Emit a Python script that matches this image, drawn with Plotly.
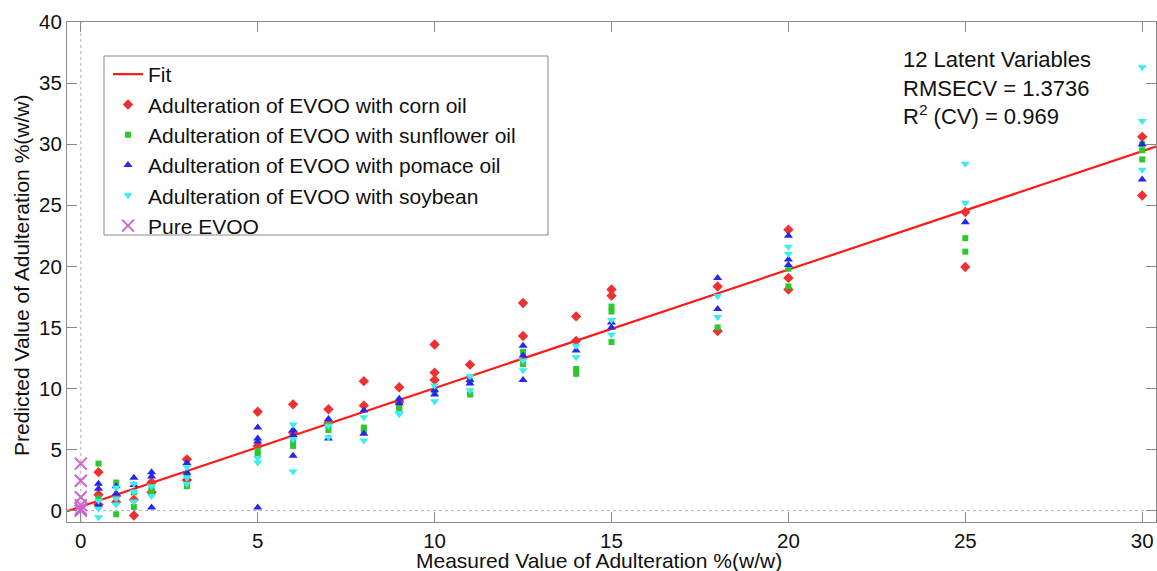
import plotly.graph_objects as go

# Measured adulteration levels (% w/w) and PLS-predicted values per oil type
corn_x = [0.5, 0.5, 0.5, 1, 1, 1.5, 1.5, 2, 2, 3, 3, 5, 5, 6, 6, 7, 7, 8, 8, 9, 9,
          10, 10, 10, 11, 12.5, 12.5, 14, 14, 15, 15, 18, 18, 20, 20, 20, 25, 25, 30, 30]
corn_y = [3.15, 1.3, 0.5, 0.7, 1.2, -0.4, 0.9, 2.3, 1.5, 4.2, 2.5, 8.1, 5.3, 8.7, 6.4, 8.3, 7.2, 10.6, 8.6, 10.1, 8.9,
          13.6, 11.3, 10.7, 11.95, 17.0, 14.3, 15.9, 13.9, 18.1, 17.6, 18.35, 14.7, 23.0, 19.05, 18.1, 24.45, 19.95, 30.6, 25.8]

sunflower_x = [0.5, 0.5, 1, 1, 1.5, 1.5, 2, 2, 3, 3, 5, 5, 6, 6, 7, 7, 8, 8, 9, 9,
               10, 11, 11, 12.5, 12.5, 14, 14, 15, 15, 15, 18, 20, 20, 25, 25, 30, 30, 30]
sunflower_y = [3.85, 1.0, 2.3, -0.3, 0.3, 1.5, 1.9, 1.6, 2.0, 3.0, 4.9, 4.6, 5.3, 5.6, 7.0, 6.6, 6.8, 6.6, 8.5, 8.3,
               9.8, 9.5, 10.6, 13.0, 12.0, 11.6, 11.2, 16.7, 16.3, 13.8, 15.0, 19.8, 18.35, 22.3, 21.2, 30.0, 29.5, 28.75]

pomace_x = [0.5, 0.5, 0.5, 1, 1, 1.5, 1.5, 2, 2, 2, 3, 3, 5, 5, 5, 5, 6, 6, 6, 7, 7, 8, 8, 9, 9,
            10, 10, 11, 11, 12.5, 12.5, 12.5, 14, 15, 15, 18, 18, 20, 20, 20, 25, 30, 30]
pomace_y = [2.2, 1.8, 0.5, 1.4, 2.0, 2.7, 2.1, 3.15, 2.8, 0.25, 3.9, 3.1, 6.8, 5.9, 5.65, 0.25, 6.6, 6.2, 4.5, 7.5, 5.9, 8.2, 6.3, 9.15, 8.8,
            9.85, 9.5, 10.7, 10.4, 13.5, 12.7, 10.7, 13.1, 15.4, 15.0, 19.05, 16.5, 22.5, 20.55, 20.1, 23.6, 30.0, 27.1]

soybean_x = [0.5, 0.5, 0.5, 1, 1, 1, 1.5, 1.5, 1.5, 2, 2, 3, 3, 3, 5, 5, 6, 6, 6, 7, 7, 8, 8, 9, 9,
             10, 10, 11, 11, 12.5, 12.5, 14, 14, 15, 15, 18, 18, 20, 20, 25, 25, 30, 30, 30]
soybean_y = [0.8, 0.15, -0.55, 1.9, 1.0, 0.5, 2.2, 1.55, 0.75, 1.2, 2.0, 3.55, 2.7, 2.2, 4.3, 3.95, 7.05, 5.85, 3.2, 6.95, 6.0, 7.65, 5.75, 8.0, 7.9,
             10.25, 8.95, 11.0, 9.85, 12.3, 11.5, 13.5, 12.55, 14.4, 15.6, 17.55, 15.85, 21.6, 21.0, 28.4, 25.2, 36.3, 31.9, 27.9]

pure_x = [0, 0, 0, 0, 0, 0]
pure_y = [3.85, 2.45, 1.1, 0.45, 0.15, 0.0]

# Regression line of predicted vs measured
fit_slope = 0.97
fit_intercept = 0.33

x_range = [-0.39, 30.39]
y_range = [-0.93, 40.0]

axis_tick_values = [0, 5, 10, 15, 20, 25, 30, 35, 40]

FONT = "Liberation Sans, Arial, sans-serif"
GRAY = "#8a8a8a"

# plot area in pixels (used to place the legend frame)
PLOT_L, PLOT_R, PLOT_T, PLOT_B = 67, 1156, 22, 522


def px_x(p):
    return (p - PLOT_L) / (PLOT_R - PLOT_L)


def px_y(p):
    return (PLOT_B - p) / (PLOT_B - PLOT_T)


fig = go.Figure()

fig.add_trace(go.Scatter(
    x=x_range, y=[fit_intercept + fit_slope * v for v in x_range],
    mode="lines", name="Fit", line=dict(color="#ff1a1a", width=2.2),
    legendgroup="fit", cliponaxis=True))

series = [
    ("Adulteration of EVOO with corn oil", corn_x, corn_y, "diamond", "#ee3030", 8),
    ("Adulteration of EVOO with sunflower oil", sunflower_x, sunflower_y, "square", "#2ec82e", 6),
    ("Adulteration of EVOO with pomace oil", pomace_x, pomace_y, "triangle-up", "#2626ee", 8),
    ("Adulteration of EVOO with soybean", soybean_x, soybean_y, "triangle-down", "#3ceeee", 8),
]
for name, xs, ys, sym, col, size in series:
    fig.add_trace(go.Scatter(
        x=xs, y=ys, mode="markers", name=name, legendgroup=name,
        marker=dict(symbol=sym, color=col, size=size, line=dict(width=0))))

fig.add_trace(go.Scatter(
    x=pure_x, y=pure_y, mode="markers", name="Pure EVOO", legendgroup="pure",
    marker=dict(symbol="x-thin", size=12, color="#cc66cc",
                line=dict(color="#cc66cc", width=2))))

# dotted reference lines through the origin
fig.add_shape(type="line", xref="x", yref="paper", x0=0, x1=0, y0=0, y1=1,
              line=dict(color="#b0b0b0", width=1, dash="dot"), layer="below")
fig.add_shape(type="line", xref="paper", yref="y", x0=0, x1=1, y0=0, y1=0,
              line=dict(color="#b0b0b0", width=1, dash="dot"), layer="below")

# legend frame
fig.add_shape(type="rect", xref="paper", yref="paper",
              x0=px_x(104), x1=px_x(548), y0=px_y(235), y1=px_y(56),
              line=dict(color=GRAY, width=1), fillcolor="white", layer="below")

axis_common = dict(
    showgrid=False, zeroline=False, showline=True, linecolor=GRAY, linewidth=1,
    mirror="ticks", ticks="inside", ticklen=10, tickcolor=GRAY, tickwidth=1,
    tickfont=dict(family=FONT, size=20.5, color="#111111"),
)

fig.update_xaxes(range=x_range, tickvals=axis_tick_values[:7], **axis_common)
fig.update_yaxes(range=y_range, tickvals=axis_tick_values, **axis_common)

fig.add_annotation(
    xref="paper", yref="paper", x=0.4885, y=0, yshift=-38, xanchor="center", yanchor="middle",
    text="Measured Value of Adulteration %(w/w)", showarrow=False,
    font=dict(family=FONT, size=21, color="#111111"))
fig.add_annotation(
    xref="paper", yref="paper", x=0, y=0.492, xshift=-46, xanchor="center", yanchor="middle",
    text="Predicted Value of Adulteration %(w/w)", textangle=-90, showarrow=False,
    font=dict(family=FONT, size=21, color="#111111"))
fig.add_annotation(
    xref="paper", yref="paper", x=0.766, y=0.954, xanchor="left", yanchor="top", align="left",
    text="12 Latent Variables<br>RMSECV = 1.3736<br>R<sup>2</sup> (CV) = 0.969", showarrow=False,
    font=dict(family=FONT, size=22, color="#111111"))

fig.update_layout(
    width=1157, height=571,
    margin=dict(l=PLOT_L, r=1157 - PLOT_R, t=PLOT_T, b=571 - PLOT_B),
    paper_bgcolor="white", plot_bgcolor="white",
    showlegend=True,
    legend=dict(
        x=px_x(108), y=px_y(54), xanchor="left", yanchor="top",
        bgcolor="rgba(0,0,0,0)", borderwidth=0,
        font=dict(family=FONT, size=21, color="#111111"),
        traceorder="normal", tracegroupgap=0, itemwidth=30,
    ),
)

fig.write_html("out.html")
